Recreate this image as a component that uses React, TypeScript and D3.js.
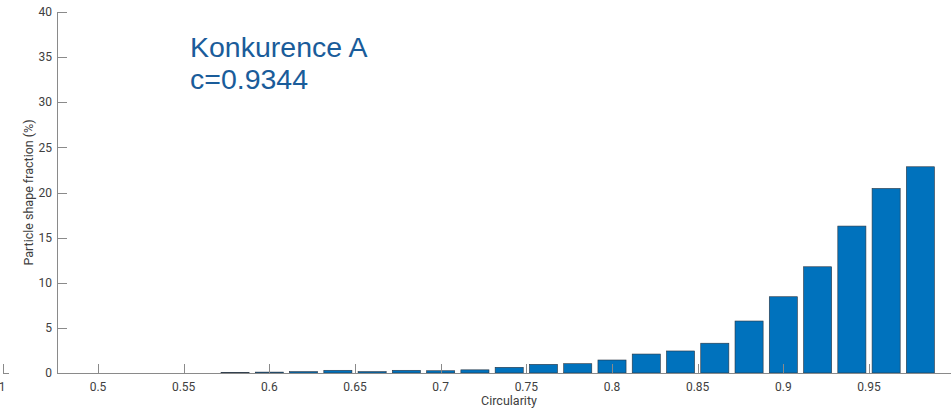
import React from "react";
import * as d3 from "d3";

const binCenters = [0.58, 0.6, 0.62, 0.64, 0.66, 0.68, 0.7, 0.72, 0.74, 0.76, 0.78, 0.8, 0.82, 0.84, 0.86, 0.88, 0.9, 0.92, 0.94, 0.96, 0.98];
const fractions = [0.05, 0.1, 0.15, 0.3, 0.15, 0.3, 0.25, 0.35, 0.63, 0.96, 1.03, 1.44, 2.1, 2.44, 3.3, 5.76, 8.45, 11.77, 16.28, 20.45, 22.85];
const xTicks = [0.5, 0.55, 0.6, 0.65, 0.7, 0.75, 0.8, 0.85, 0.9, 0.95];
const yTicks = [0, 5, 10, 15, 20, 25, 30, 35, 40];
const titleLines = ["Konkurence A", "c=0.9344"];
const binWidth = 0.02;

const W = 951;
const H = 411;

export default function App() {
  const x = d3.scaleLinear().domain([0.5, 0.95]).range([98, 869]);
  const y = d3.scaleLinear().domain([0, 40]).range([373, 12]);
  const x0 = 57;
  const y0 = y(0);
  const axisColor = "#8a8a8a";
  const textColor = "#404040";
  const barW = x(binWidth * 0.82) - x(0);
  const fmt = (v: number) => d3.format("~g")(v);

  return (
    <svg width={W} height={H} style={{ position: "absolute", left: 0, top: 0, background: "#fff" }}
      fontFamily="Roboto, 'DejaVu Sans', sans-serif">
      {/* bars */}
      {binCenters.map((c, i) => (
        <rect key={i}
          x={x(c) - barW / 2}
          y={y(fractions[i])}
          width={barW}
          height={y0 - y(fractions[i])}
          fill="#0072BD"
          stroke="#2a3440"
          strokeWidth={0.6}
        />
      ))}
      {/* x axis */}
      <line x1={x0} x2={W} y1={y0 + 0.5} y2={y0 + 0.5} stroke={axisColor} strokeWidth={1} />
      {xTicks.map((t) => (
        <g key={t}>
          <line x1={Math.round(x(t)) + 0.5} x2={Math.round(x(t)) + 0.5} y1={y0} y2={y0 - 9} stroke={axisColor} strokeWidth={1} />
          <text x={x(t)} y={391} textAnchor="middle" fontSize={12} fill={textColor}>{fmt(t)}</text>
        </g>
      ))}
      {/* y axis */}
      <line x1={x0 + 0.5} x2={x0 + 0.5} y1={y(40)} y2={y0 + 0.5} stroke={axisColor} strokeWidth={1} />
      {yTicks.map((t) => (
        <g key={t}>
          <line x1={x0} x2={x0 + 10} y1={Math.round(y(t)) + 0.5} y2={Math.round(y(t)) + 0.5} stroke={axisColor} strokeWidth={1} />
          <text x={52} y={y(t)} dy="0.35em" textAnchor="end" fontSize={12} fill={textColor}>{t}</text>
        </g>
      ))}
      {/* axis labels */}
      <text x={509} y={405} textAnchor="middle" fontSize={12.5} fill={textColor}>Circularity</text>
      <text transform={`translate(33, ${(y(0) + y(40)) / 2}) rotate(-90)`} textAnchor="middle" fontSize={12.5} fill={textColor}>
        Particle shape fraction (%)
      </text>
      {/* stray neighbour axis fragment */}
      <line x1={3} x2={9} y1={y0 + 0.5} y2={y0 + 0.5} stroke={axisColor} strokeWidth={1} />
      <line x1={3.5} x2={3.5} y1={y0} y2={y0 - 9} stroke={axisColor} strokeWidth={1} />
      <text x={2} y={391} textAnchor="middle" fontSize={12} fill={textColor}>1</text>
      {/* title */}
      {titleLines.map((s, i) => (
        <text key={i} x={190} y={56.5 + i * 32} fontSize={28.5} fill="#1a5c9a" fontFamily="'Liberation Sans', Arial, sans-serif">{s}</text>
      ))}
    </svg>
  );
}
